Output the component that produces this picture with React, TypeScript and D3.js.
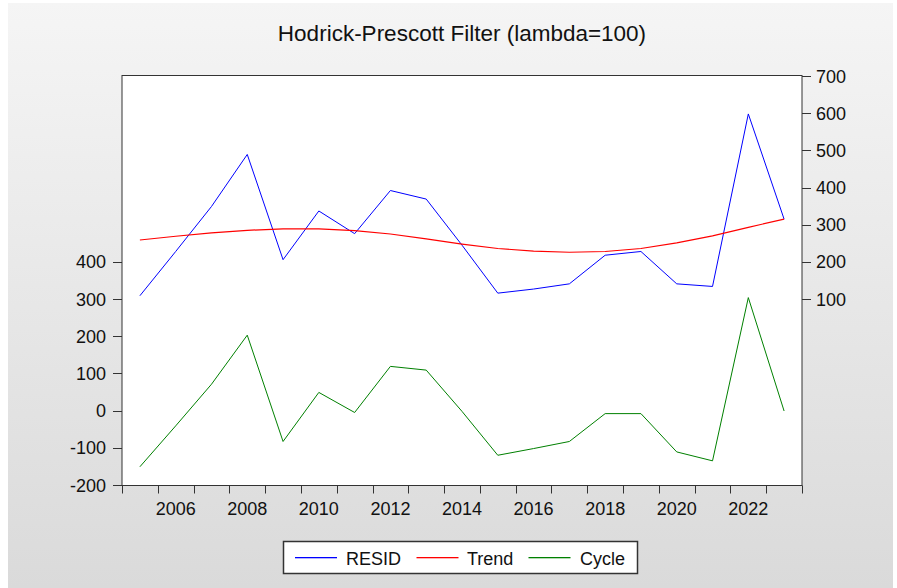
import React from "react";
import * as d3 from "d3";

const years = [2005, 2006, 2007, 2008, 2009, 2010, 2011, 2012, 2013, 2014, 2015, 2016, 2017, 2018, 2019, 2020, 2021, 2022, 2023];
const resid = [109, 228, 349, 489, 206, 337, 276, 392, 369, 245, 116, 127, 141, 218, 228, 141, 134, 598, 315];
const trend = [259, 269, 278, 285, 289, 289, 284, 275, 262, 248, 236, 229, 226, 228, 236, 251, 270, 293, 315];
const cycle = [-151, -41, 71, 203, -83, 49, -5, 119, 109, -2, -120, -102, -83, -8, -8, -111, -135, 304, -1];
const leftTicks = [-200, -100, 0, 100, 200, 300, 400];
const rightTicks = [100, 200, 300, 400, 500, 600, 700];
const yearLabels = [2006, 2008, 2010, 2012, 2014, 2016, 2018, 2020, 2022];
const title = "Hodrick-Prescott Filter (lambda=100)";
const legendNames = ["RESID", "Trend", "Cycle"];
const legendColors = ["#0000ff", "#ff0000", "#008000"];

const W = 897;
const H = 588;
const FONT = "'Liberation Sans', Arial, sans-serif";

export default function App() {
  const L = 122, R = 802, T = 75.5, B = 485.5;
  const x = d3.scaleLinear().domain([2004.5, 2023.5]).range([L, R]);
  const yL = d3.scaleLinear().domain([-200, 900]).range([485, 76]);
  const yR = d3.scaleLinear().domain([-400, 700]).range([485, 76]);
  const xTicks = d3.range(2004.5, 2024, 1);

  const lineR = d3.line<number>().x((_, i) => x(years[i])).y((d) => yR(d));
  const lineL = d3.line<number>().x((_, i) => x(years[i])).y((d) => yL(d));

  const legendX = [295, 416.5, 528.5];
  const legendTextX = [346, 467, 580];

  return (
    <svg width={W} height={H} style={{ position: "absolute", left: 0, top: 0 }} fontFamily={FONT}>
      <defs>
        <linearGradient id="bg" x1="0" y1="0" x2="0" y2="1">
          <stop offset="0" stopColor="#f5f5f5" />
          <stop offset="1" stopColor="#dadada" />
        </linearGradient>
      </defs>
      <rect x={0} y={0} width={W} height={H} fill="#ffffff" />
      <rect x={8} y={3} width={885} height={H - 3} fill="url(#bg)" />
      <text x={462} y={41} textAnchor="middle" fontSize={22.5} fill="#111">{title}</text>
      <rect x={L} y={T} width={R - L} height={B - T} fill="#ffffff" stroke="#333" strokeWidth={1} />
      {xTicks.map((t) => (
        <line key={"xt" + t} x1={Math.round(x(t)) + 0.5} x2={Math.round(x(t)) + 0.5} y1={B} y2={B + 8} stroke="#333" />
      ))}
      {yearLabels.map((yv) => (
        <text key={"xl" + yv} x={x(yv)} y={515} textAnchor="middle" fontSize={18} fill="#111">{yv}</text>
      ))}
      {leftTicks.map((t) => (
        <g key={"lt" + t}>
          <line x1={L - 9} x2={L} y1={Math.round(yL(t)) + 0.5} y2={Math.round(yL(t)) + 0.5} stroke="#333" />
          <text x={106} y={yL(t) + 6.5} textAnchor="end" fontSize={18} fill="#111">{t}</text>
        </g>
      ))}
      {rightTicks.map((t) => (
        <g key={"rt" + t}>
          <line x1={R} x2={R + 9} y1={Math.round(yR(t)) + 0.5} y2={Math.round(yR(t)) + 0.5} stroke="#333" />
          <text x={816} y={yR(t) + 6.5} textAnchor="start" fontSize={18} fill="#111">{t}</text>
        </g>
      ))}
      <path d={lineR(resid) || ""} fill="none" stroke="#0000ff" strokeWidth={1} />
      <path d={lineR(trend) || ""} fill="none" stroke="#ff0000" strokeWidth={1.2} />
      <path d={lineL(cycle) || ""} fill="none" stroke="#008000" strokeWidth={1} />
      <rect x={283.5} y={541.5} width={354} height={32} fill="#ffffff" stroke="#333" strokeWidth={1.5} />
      {legendNames.map((name, i) => (
        <g key={name}>
          <rect x={legendX[i]} y={557} width={42} height={1.3} fill={legendColors[i]} />
          <text x={legendTextX[i]} y={565} fontSize={18} fill="#111">{name}</text>
        </g>
      ))}
    </svg>
  );
}
